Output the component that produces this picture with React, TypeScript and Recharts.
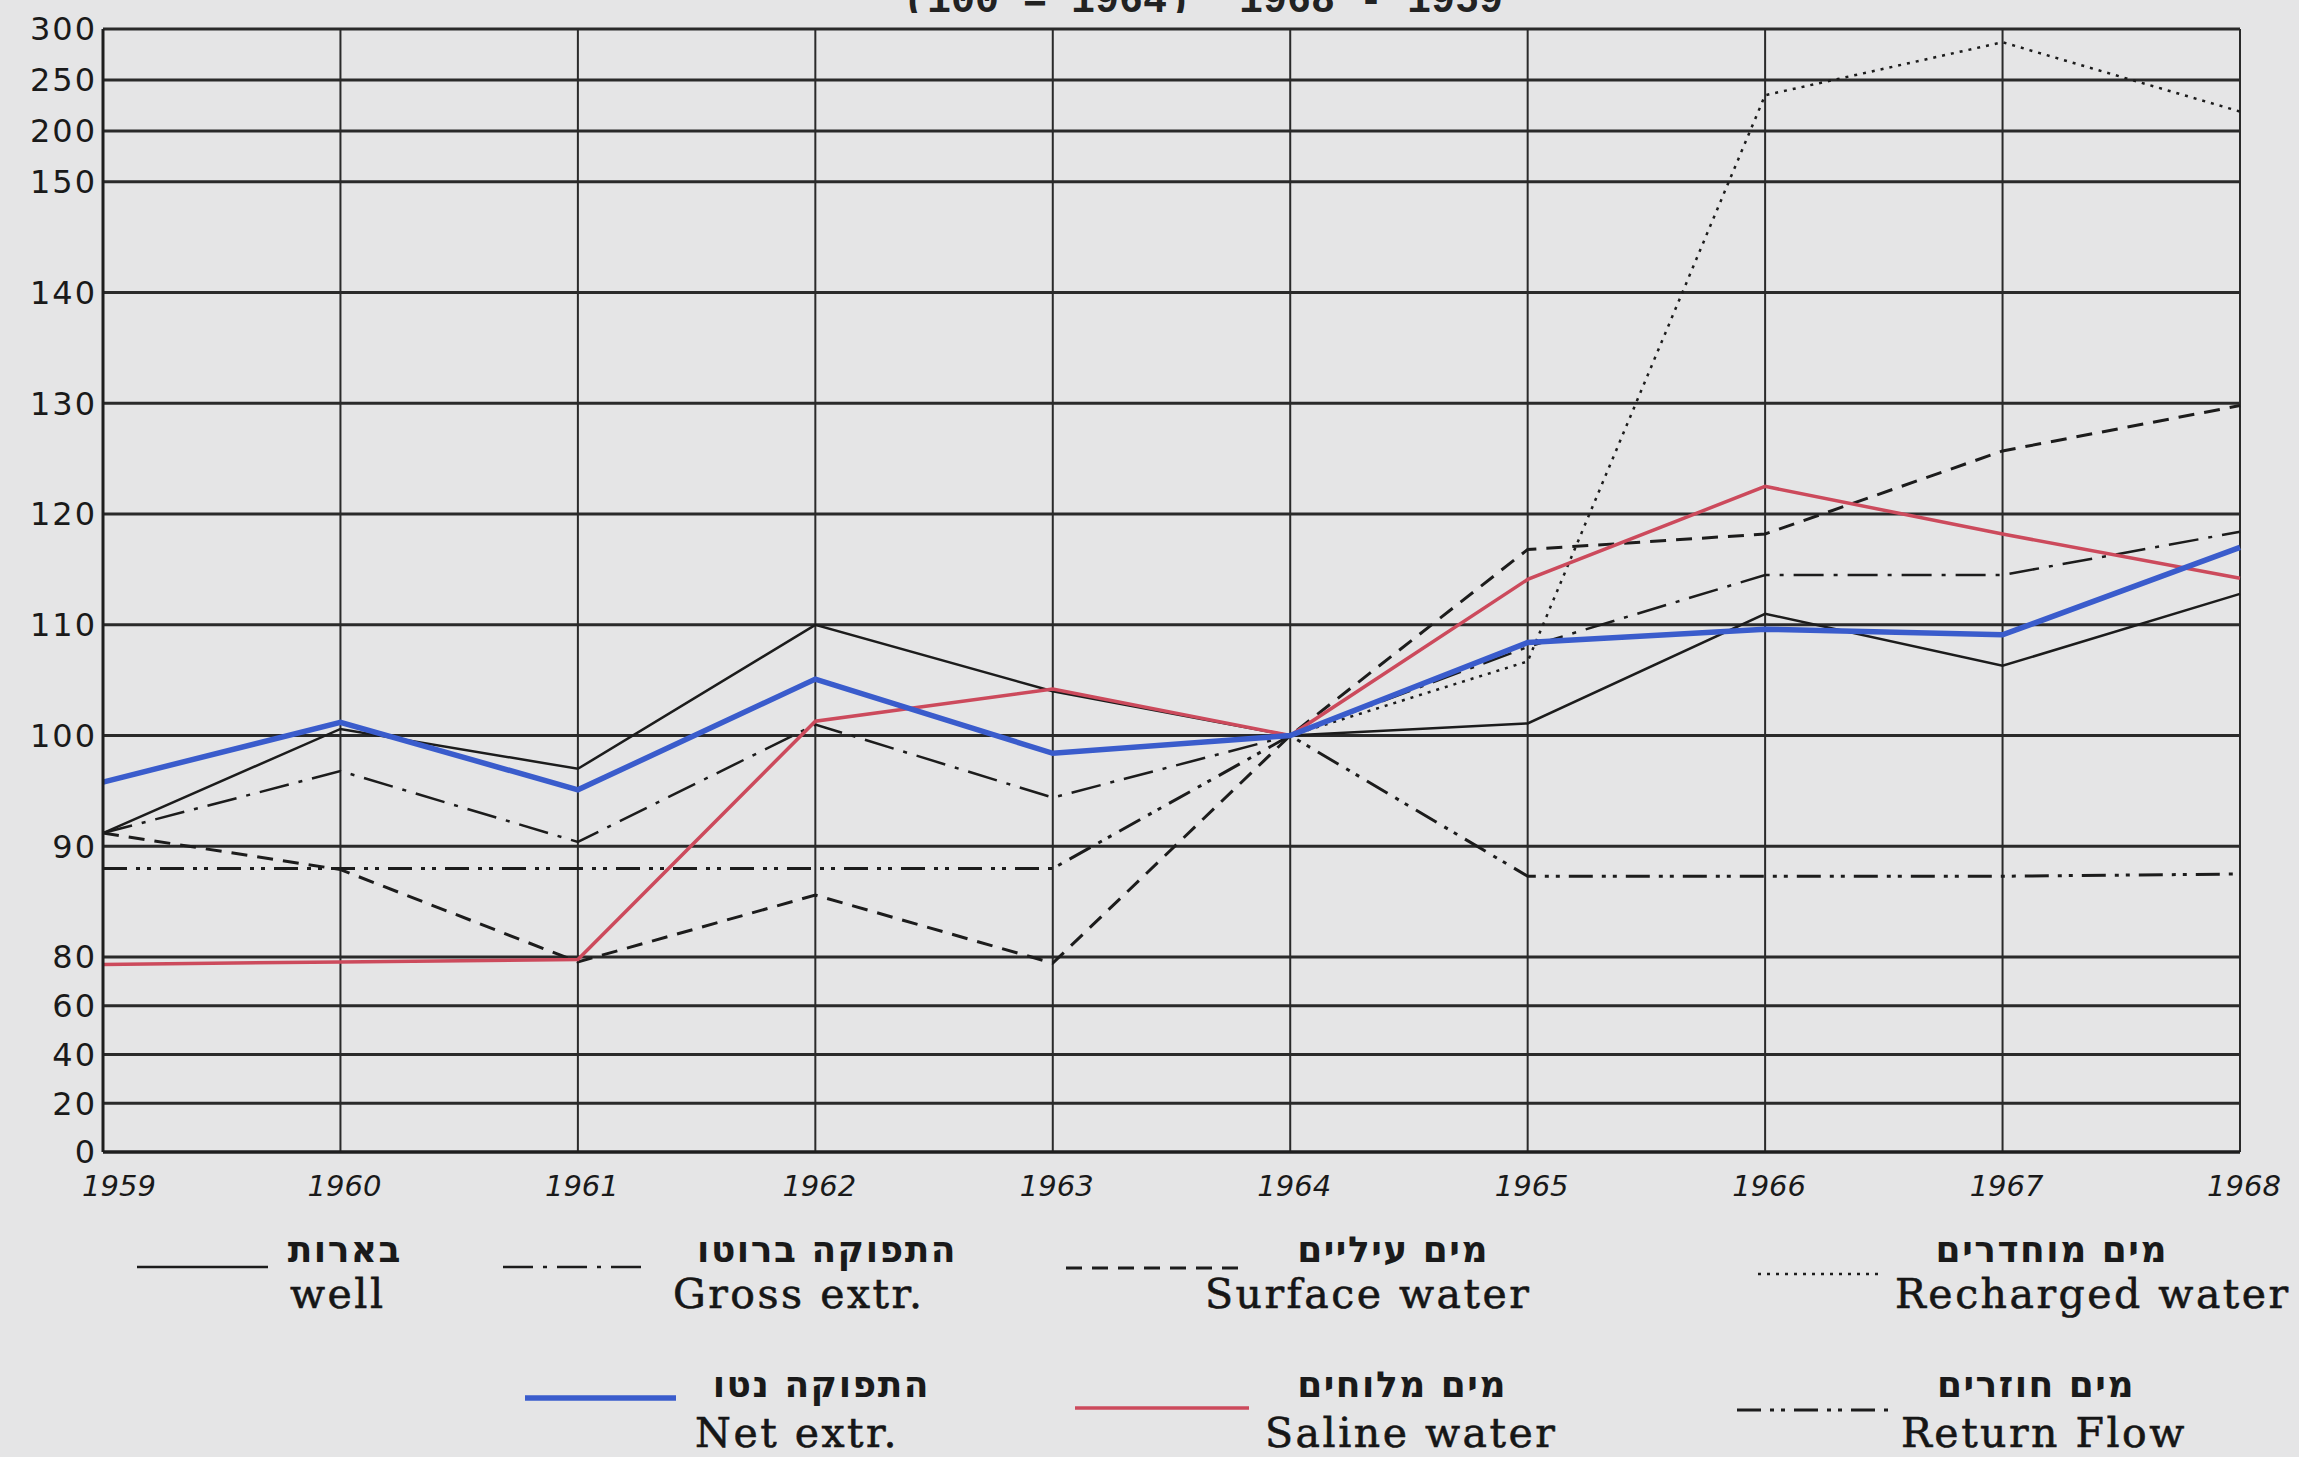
import { CartesianGrid, Line, LineChart, XAxis, YAxis } from "recharts";

const years = [1959, 1960, 1961, 1962, 1963, 1964, 1965, 1966, 1967, 1968];

const well = [91.2, 100.6, 97, 110, 104, 100, 101.1, 111, 106.3, 112.8];
const grossExtr = [91.2, 96.8, 90.4, 101, 94.4, 100, 108, 114.5, 114.5, 118.4];
const surfaceWater = [91.2, 87.9, 78, 85.6, 77.5, 100, 116.8, 118.2, 125.7, 129.8];
const rechargedWater = [null, null, null, null, null, 100, 106.7, 235, 287, 219];
const netExtr = [95.8, 101.2, 95.1, 105.1, 98.4, 100, 108.4, 109.6, 109.1, 117];
const salineWater = [77, 78, 79, 101.3, 104.2, 100, 114.1, 122.5, 118.2, 114.2];
const returnFlow = [88, 88, 88, 88, 88, 100, 87.3, 87.3, 87.3, 87.5];

const yTicks = [0, 20, 40, 60, 80, 90, 100, 110, 120, 130, 140, 150, 200, 250, 300];

const title = "(100 = 1964)  1968 - 1959";

// the paper uses a broken scale: 0-80 and 150-300 are squeezed, 80-150 is full size (1 unit = 10)
const toAxis = (v: number) =>
	v <= 80 ? v * 0.022 : v <= 150 ? 1.76 + (v - 80) / 10 : 8.76 + (v - 150) * 0.0092;

const series = [
	{ key: "returnFlow", he: "מים חוזרים", en: "Return Flow", values: returnFlow, color: "#1c1c1c", width: 3, dash: "24 9 4 7 4 9" },
	{ key: "surface", he: "מים עיליים", en: "Surface water", values: surfaceWater, color: "#1c1c1c", width: 3, dash: "16 10" },
	{ key: "gross", he: "התפוקה ברוטו", en: "Gross extr.", values: grossExtr, color: "#1c1c1c", width: 2.5, dash: "30 10 4 10" },
	{ key: "recharged", he: "מים מוחדרים", en: "Recharged water", values: rechargedWater, color: "#1c1c1c", width: 2.5, dash: "3 6" },
	{ key: "well", he: "בארות", en: "well", values: well, color: "#1c1c1c", width: 2.5, dash: undefined },
	{ key: "saline", he: "מים מלוחים", en: "Saline water", values: salineWater, color: "#cc4a5c", width: 3.5, dash: undefined },
	{ key: "net", he: "התפוקה נטו", en: "Net extr.", values: netExtr, color: "#3a5ccc", width: 5.5, dash: undefined },
];

// where each legend entry sits on the page
const legendLayout: Record<string, { x1: number; x2: number; y: number; heRight: number; enLeft: number; row: number }> = {
	well: { x1: 137, x2: 268, y: 1267, heRight: 402, enLeft: 290, row: 0 },
	gross: { x1: 503, x2: 644, y: 1267, heRight: 957, enLeft: 673, row: 0 },
	surface: { x1: 1066, x2: 1240, y: 1268, heRight: 1489, enLeft: 1205, row: 0 },
	recharged: { x1: 1758, x2: 1882, y: 1274, heRight: 2168, enLeft: 1895, row: 0 },
	net: { x1: 525, x2: 676, y: 1398, heRight: 930, enLeft: 695, row: 1 },
	saline: { x1: 1075, x2: 1249, y: 1408, heRight: 1507, enLeft: 1265, row: 1 },
	returnFlow: { x1: 1737, x2: 1895, y: 1410, heRight: 2135, enLeft: 1901, row: 1 },
};

const data = years.map((year, i) => {
	const row: Record<string, number | null> = { year };
	series.forEach((s) => {
		const v = s.values[i];
		row[s.key] = v == null ? null : toAxis(v);
	});
	return row;
});

const yTickFormatter = (t: number) => {
	const v = yTicks.find((y) => Math.abs(toAxis(y) - t) < 1e-6);
	return v == null ? "" : String(v);
};

// year labels sit a little right of their grid line, the first one more so
const YearTick = (props: any) => {
	const { x, y, payload } = props;
	const shift = payload.value === years[0] ? 16 : 4;
	return (
		<text
			x={x + shift}
			y={y + 36}
			textAnchor="middle"
			fontFamily="DejaVu Sans"
			fontSize={29}
			fontStyle="italic"
			fill="#1a1a1a"
		>
			{payload.value}
		</text>
	);
};

const Legend = () => (
	<>
		{series.map((s) => {
			const l = legendLayout[s.key];
			const heTop = l.row === 0 ? 1232 : 1367;
			const enTop = l.row === 0 ? 1274 : 1413;
			return (
				<div key={s.key}>
					<svg style={{ position: "absolute", left: l.x1, top: l.y - 6 }} width={l.x2 - l.x1} height={12}>
						<line x1={0} y1={6} x2={l.x2 - l.x1} y2={6} stroke={s.color} strokeWidth={s.width} strokeDasharray={s.dash} />
					</svg>
					<div
						style={{
							position: "absolute",
							left: l.heRight,
							top: heTop,
							transform: "translateX(-100%)",
							fontFamily: "DejaVu Sans",
							fontWeight: "bold",
							fontSize: 36,
							lineHeight: "36px",
							letterSpacing: 1.5,
							whiteSpace: "nowrap",
							color: "#1a1a1a",
						}}
					>
						{s.he}
					</div>
					<div
						style={{
							position: "absolute",
							left: l.enLeft,
							top: enTop,
							fontFamily: "DejaVu Serif",
							fontSize: 41,
							lineHeight: "41px",
							letterSpacing: 2.5,
							whiteSpace: "nowrap",
							color: "#161616",
							WebkitTextStroke: "0.6px #161616",
						}}
					>
						{s.en}
					</div>
				</div>
			);
		})}
	</>
);

const App = () => {
	return (
		<div style={{ position: "absolute", left: 0, top: 0, width: 2299, height: 1457, background: "#e5e5e6", overflow: "hidden" }}>
			<div style={{ position: "absolute", left: 903, top: 0, height: 13, width: 640, overflow: "hidden" }}>
				<div
					style={{
						position: "absolute",
						top: -18,
						left: 0,
						fontFamily: "Liberation Mono",
						fontWeight: "bold",
						fontSize: 40,
						lineHeight: "40px",
						whiteSpace: "pre",
						color: "#222",
					}}
				>
					{title}
				</div>
			</div>
			<LineChart
				style={{ position: "absolute", left: 0, top: 0 }}
				width={2299}
				height={1220}
				data={data}
				margin={{ top: 29, right: 59, left: 0, bottom: 0 }}
			>
				<CartesianGrid horizontal={true} vertical={false} stroke="#2a2a2a" strokeWidth={3} />
				<CartesianGrid horizontal={false} vertical={true} stroke="#2a2a2a" strokeWidth={2} />
				<XAxis
					dataKey="year"
					type="number"
					domain={[1959, 1968]}
					ticks={years}
					interval={0}
					height={68}
					tickLine={false}
					tickSize={6}
					axisLine={{ stroke: "#1e1e1e", strokeWidth: 3 }}
					tick={<YearTick />}
				/>
				<YAxis
					type="number"
					domain={[0, toAxis(300)]}
					ticks={yTicks.map(toAxis)}
					interval={0}
					width={103}
					tickLine={false}
					tickSize={6}
					tickMargin={0}
					tickFormatter={yTickFormatter}
					axisLine={{ stroke: "#1e1e1e", strokeWidth: 3 }}
					tick={{ fontFamily: "DejaVu Sans", fontSize: 32, fill: "#1a1a1a", letterSpacing: 2 }}
				/>
				{series.map((s) => (
					<Line
						key={s.key}
						type="linear"
						dataKey={s.key}
						stroke={s.color}
						strokeWidth={s.width}
						strokeDasharray={s.dash}
						dot={false}
						activeDot={false}
						isAnimationActive={false}
					/>
				))}
			</LineChart>
			<Legend />
		</div>
	);
};

export default App;
